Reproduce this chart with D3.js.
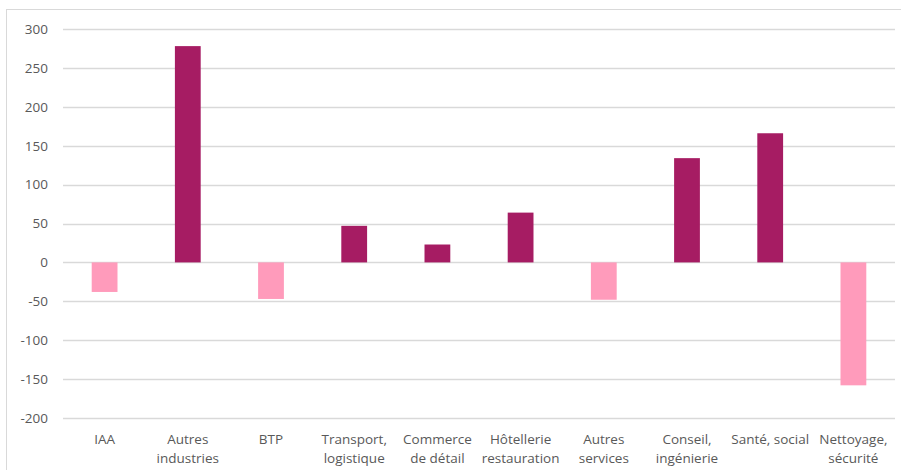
<!DOCTYPE html>
<html>
<head>
<meta charset="utf-8">
<script src="https://cdn.jsdelivr.net/npm/d3@7"></script>
<style>
  body { margin: 0; background: #fff; }
  text { font-family: "Open Sans", "Noto Sans", sans-serif; fill: #595959; }
</style>
</head>
<body>
<div id="chart-area"></div>
<script>

// data
var categories = ["IAA", "Autres industries", "BTP", "Transport, logistique", "Commerce de détail",
    "Hôtellerie restauration", "Autres services", "Conseil, ingénierie", "Santé, social", "Nettoyage, sécurité"];
var labelLines = [["IAA"], ["Autres", "industries"], ["BTP"], ["Transport,", "logistique"], ["Commerce", "de détail"],
    ["Hôtellerie", "restauration"], ["Autres", "services"], ["Conseil,", "ingénierie"], ["Santé, social"], ["Nettoyage,", "sécurité"]];
var values = [-38, 278, -47, 47, 23, 64, -48, 134, 166, -158];
var yTicks = [-200, -150, -100, -50, 0, 50, 100, 150, 200, 250, 300];

var W = 901, H = 470;
var margin = {top: 29, right: 6, bottom: 52, left: 63};
var width = W - margin.left - margin.right,
    height = H - margin.top - margin.bottom;

var root = d3.select("#chart-area").append("svg")
    .attr("width", W)
    .attr("height", H);

// outer frame
root.append("rect")
    .attr("x", 6.5).attr("y", 9.5)
    .attr("width", W - 6).attr("height", H - 9)
    .attr("fill", "none")
    .attr("stroke", "#d9d9d9");

var svg = root.append("g")
    .attr("transform", "translate(" + margin.left + "," + margin.top + ")");

var x = d3.scaleBand()
    .domain(categories)
    .range([0, width])
    .paddingInner(0.69)
    .paddingOuter(0.345);

var y = d3.scaleLinear()
    .domain([-200, 300])
    .range([height, 0]);

// gridlines
svg.append("g")
    .selectAll("line")
    .data(yTicks)
    .enter().append("line")
    .attr("x1", 0)
    .attr("x2", width)
    .attr("y1", function (d) { return Math.round(y(d)) + 0.5; })
    .attr("y2", function (d) { return Math.round(y(d)) + 0.5; })
    .attr("stroke", "#d9d9d9")
    .attr("stroke-width", 1.3);

// y axis labels (plain hyphen minus like the original)
var yAxis = svg.append("g")
    .call(d3.axisLeft(y).tickValues(yTicks).tickSize(0).tickPadding(15)
        .tickFormat(function (d) { return String(d); }));
yAxis.select(".domain").remove();
yAxis.selectAll("text")
    .style("font-size", "13.5px")
    .attr("fill", "#595959");

// bars
svg.selectAll(".bar")
    .data(values)
    .enter().append("rect")
    .attr("class", "bar")
    .attr("x", function (d, i) { return x(categories[i]); })
    .attr("width", x.bandwidth())
    .attr("y", function (d) { return y(Math.max(0, d)); })
    .attr("height", function (d) { return Math.abs(y(d) - y(0)); })
    .attr("fill", function (d) { return d < 0 ? "#ff9bbb" : "#a61c63"; });

// x labels
var xl = svg.append("g")
    .attr("transform", "translate(0," + height + ")");

xl.selectAll("text")
    .data(categories)
    .enter().append("text")
    .attr("text-anchor", "middle")
    .attr("x", function (d) { return x(d) + x.bandwidth() / 2; })
    .attr("y", 26)
    .style("font-size", "13.5px")
    .each(function (d, i) {
        var t = d3.select(this);
        labelLines[i].forEach(function (line, k) {
            t.append("tspan")
                .attr("x", x(d) + x.bandwidth() / 2)
                .attr("dy", k === 0 ? 0 : 19)
                .text(line);
        });
    });

</script>
</body>
</html>
